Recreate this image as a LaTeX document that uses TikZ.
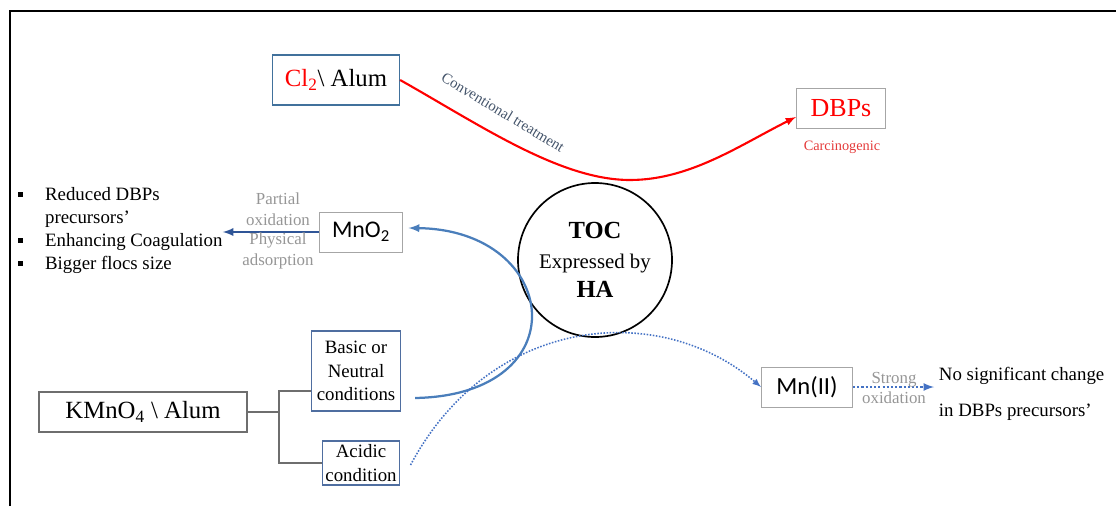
\documentclass[tikz,border=0pt]{standalone}
\usepackage{fontspec}
\setmainfont{Liberation Serif}
\newfontfamily\calibri{Carlito}
\usetikzlibrary{shapes,arrows,positioning}
\definecolor{chlorred}{RGB}{255,0,0}
\definecolor{carcred}{RGB}{228,58,58}
\definecolor{convgray}{RGB}{68,84,106}
\definecolor{boxblue}{RGB}{65,113,156}
\definecolor{condblue}{RGB}{79,110,160}
\definecolor{boxgray}{RGB}{166,166,166}
\definecolor{kgray}{RGB}{110,110,110}
\definecolor{curveblue}{RGB}{74,126,187}
\definecolor{darkblue}{RGB}{47,85,151}
\definecolor{dotblue}{RGB}{68,114,196}
\definecolor{labelgray}{RGB}{150,150,150}
\newcommand{\sqbul}{\rule[0.18em]{3.6pt}{3.6pt}}

\begin{document}
\begin{tikzpicture}[x=0.25mm, y=0.25mm,
    plainbox/.style={draw, inner sep=0pt, align=center},
    bluebox/.style={plainbox, draw=boxblue, line width=0.9pt},
    graybox/.style={plainbox, draw=boxgray, line width=0.7pt},
    condbox/.style={plainbox, draw=condblue, line width=0.9pt, font=\fontsize{13.4}{16.8}\selectfont},
    steplabel/.style={text=labelgray, align=center, font=\fontsize{12}{14.8}\selectfont},
    branch/.style={draw=kgray, line width=1pt},
    redcurve/.style={chlorred, line width=1.5pt},
    bluecurve/.style={curveblue, line width=1.6pt},
    dotcurve/.style={dotblue, line width=1.1pt, dash pattern=on 1.1pt off 1.1pt},
]
\useasboundingbox (0,0) rectangle (1116,506);

% Frame
\draw[line width=1.3pt] (10,0) -- (10,495) -- (1116,495);

% Chlorine route
\node[bluebox, minimum width=31.75mm, minimum height=12.5mm, font=\fontsize{17.6}{20}\selectfont] (cl2) at (336,426)
    {\textcolor{chlorred}{Cl\textsubscript{2}}\textbackslash{} Alum};
\node[graybox, minimum width=22.25mm, minimum height=10mm, text=chlorred, font=\fontsize{18.5}{20}\selectfont] (dbps) at (841,398) {DBPs};
\node[text=carcred, font=\fontsize{10.2}{12}\selectfont] (carc) at (842,359) {Carcinogenic};
\draw[redcurve, -latex] (cl2.east) .. controls (480,381) and (560,326) .. (630,326)
    .. controls (690,326) and (740,361) .. ([yshift=-2.25mm]dbps.west);
\node[text=convgray, rotate=-31, font=\fontsize{10.6}{12}\selectfont] (conv) at (503,394) {Conventional treatment};

% TOC
\node[circle, draw, line width=1.2pt, minimum size=38.5mm, inner sep=0pt, align=center,
    font=\fontsize{17.5}{21}\selectfont] (toc) at (595,246)
    {\textbf{TOC}\\{\fontsize{14.8}{21}\selectfont Expressed by}\\\textbf{HA}};

% MnO2 and its effects
\node[graybox, minimum width=20.75mm, minimum height=10mm, font=\calibri\fontsize{17}{20}\selectfont] (mno2) at (361,274) {MnO\textsubscript{2}};
\node[anchor=west, inner sep=0pt, font=\fontsize{13.4}{16.4}\selectfont] (effects) at (18,276) {%
    \begin{tabular}{@{}l@{\hspace{15.5pt}}l@{}}
    \sqbul & Reduced DBPs\\
           & precursors'\\
    \sqbul & Enhancing Coagulation\\
    \sqbul & Bigger flocs size
    \end{tabular}};
\draw[darkblue, line width=1.6pt, -latex] (mno2.west) -- (mno2.west -| effects.east);
\node[steplabel] (partial) at (278,297) {Partial\\oxidation};
\node[steplabel] (physical) at (278,255) {Physical\\adsorption};

% KMnO4 route
\node[plainbox, draw=kgray, line width=0.8pt, minimum width=52mm, minimum height=10mm, font=\fontsize{17.6}{20}\selectfont] (kmno4) at (143,94)
    {KMnO\textsubscript{4} \textbackslash{} Alum};
\node[condbox, minimum width=22.25mm, minimum height=20mm] (basic) at (356,135) {Basic or\\Neutral\\conditions};
\node[condbox, minimum width=19.25mm, minimum height=11mm] (acidic) at (361,43) {Acidic\\condition};
\coordinate (fork) at (279,94);
\draw[branch] (kmno4.east) -- (fork);
\draw[branch] ([yshift=-5mm]basic.west) -| (fork) |- (acidic.west);

\draw[bluecurve, -latex] ([xshift=3.5mm,yshift=-6.75mm]basic.east) .. controls +(165,3) and +(152,-2) .. ([xshift=1.4mm,yshift=1mm]mno2.east);

% Mn(II)
\node[graybox, minimum width=22.75mm, minimum height=10mm, font=\calibri\fontsize{17.5}{20}\selectfont] (mn2) at (807,119) {Mn(II)};
\draw[dotcurve, -latex] ([xshift=2.6mm,yshift=-0.5mm]acidic.east) .. controls +(80,150) and +(-102,87) .. (mn2.west);
\node[anchor=west, align=left, font=\fontsize{13.4}{25.6}\selectfont] (result) at (934,112) {No significant change\\in DBPs precursors'};
\draw[dotblue, line width=1.5pt, dash pattern=on 1.5pt off 1.5pt, -latex] (mn2.east) -- (mn2.east -| result.west);
\node[steplabel] (strong) at (894,118) {Strong\\oxidation};
\end{tikzpicture}
\end{document}
